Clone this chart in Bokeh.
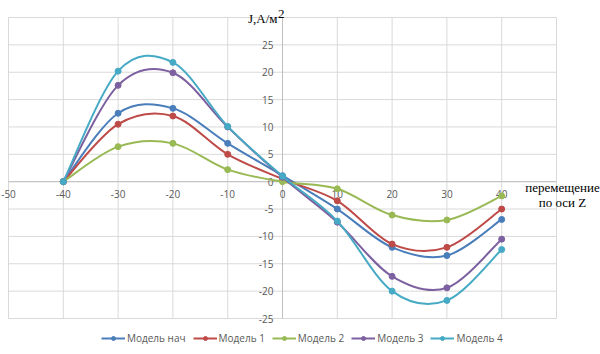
from bokeh.plotting import figure
from bokeh.models import Range1d, Label, Legend, LegendItem
from bokeh.core.properties import value
from bokeh.embed import file_html
from bokeh.resources import INLINE

# ---- data ----
z = [-40, -30, -20, -10, 0, 10, 20, 30, 40]
model_nach = [0, 12.5, 13.4, 7.0, 1.1, -5.0, -12.0, -13.5, -6.9]
model_1 = [0, 10.5, 12.0, 5.0, 0.5, -3.5, -11.4, -12.0, -5.0]
model_2 = [0, 6.4, 7.0, 2.2, 0.0, -1.3, -6.1, -7.0, -2.6]
model_3 = [0, 17.6, 19.9, 10.0, 0.8, -7.4, -17.3, -19.4, -10.5]
model_4 = [0, 20.2, 21.8, 10.1, 1.0, -7.2, -20.0, -21.7, -12.4]
series_names = ["Модель нач", "Модель 1", "Модель 2", "Модель 3", "Модель 4"]
series_values = [model_nach, model_1, model_2, model_3, model_4]
colors = ["#4A7EBB", "#BE4B48", "#98B954", "#7D60A0", "#46AAC5"]
x_ticks = [-50, -40, -30, -20, -10, 0, 10, 20, 30, 40, 50]
x_tick_labels = ["-50", "-40", "-30", "-20", "-10", "0", "10", "20", "30", "40"]
y_ticks = [-25, -20, -15, -10, -5, 0, 5, 10, 15, 20, 25, 30]
y_tick_labels = ["-25", "-20", "-15", "-10", "-5", "0", "5", "10", "15", "20", "25"]

FONT = "Open Sans"
SERIF = "Liberation Serif"
LABEL_COLOR = "#595959"

# the frame fills the whole canvas; the plotting area (-50..50, -25..30)
# sits at px 8..556 horizontally and 17..318 vertically
xmin, xmax = x_ticks[0], x_ticks[-1]
ymin, ymax = y_ticks[0], y_ticks[-1]
kx = 548.0 / (xmax - xmin)
ky = 301.0 / (ymax - ymin)
p = figure(width=600, height=354, output_backend="svg", toolbar_location=None,
           x_range=Range1d(xmin - 8 / kx, xmax + 44 / kx),
           y_range=Range1d(ymin - 36 / ky, ymax + 17 / ky),
           x_axis_location=None, y_axis_location=None,
           min_border=0)
p.outline_line_color = None
p.grid.grid_line_color = None

# grid lines
p.segment(x0=x_ticks, y0=[ymin] * len(x_ticks), x1=x_ticks, y1=[ymax] * len(x_ticks),
          line_color="#D9D9D9", line_width=1)
p.segment(x0=[xmin] * len(y_ticks), y0=y_ticks, x1=[xmax] * len(y_ticks), y1=y_ticks,
          line_color="#D9D9D9", line_width=1)
# axis lines crossing at zero
p.segment(x0=[xmin, 0], y0=[0, ymin], x1=[xmax, 0], y1=[0, ymax],
          line_color="#BFBFBF", line_width=1)

# tick labels at the axis crossing
xl = [float(t) for t in x_tick_labels]
p.text(x=xl, y=[0.0] * len(xl), text=x_tick_labels, text_align="center",
       text_baseline="middle", y_offset=12, text_font_size="10px",
       text_color=LABEL_COLOR, text_font=value(FONT))
yl = [float(t) for t in y_tick_labels]
p.text(x=[0.0] * len(yl), y=yl, text=y_tick_labels, text_align="right",
       text_baseline="middle", x_offset=-9, text_font_size="10px",
       text_color=LABEL_COLOR, text_font=value(FONT))

# smooth series (Bezier segments computed from the data points)
items = []
for name, vals, col in zip(series_names, series_values, colors):
    n = len(z)
    x0, y0, x1, y1, cx0, cy0, cx1, cy1 = [], [], [], [], [], [], [], []
    for i in range(n - 1):
        ip = i - 1 if i > 0 else i
        iq = i + 2 if i + 2 < n else i + 1
        x0.append(z[i]); y0.append(vals[i])
        x1.append(z[i + 1]); y1.append(vals[i + 1])
        cx0.append(z[i] + (z[i + 1] - z[ip]) / 6.0)
        cy0.append(vals[i] + (vals[i + 1] - vals[ip]) / 6.0)
        cx1.append(z[i + 1] - (z[iq] - z[i]) / 6.0)
        cy1.append(vals[i + 1] - (vals[iq] - vals[i]) / 6.0)
    bz = p.bezier(x0=x0, y0=y0, x1=x1, y1=y1, cx0=cx0, cy0=cy0, cx1=cx1, cy1=cy1,
                  line_color=col, line_width=2)
    sc = p.scatter(x=z, y=vals, size=6, fill_color=col, line_color=col)
    items.append(LegendItem(label=name, renderers=[bz, sc]))

legend = Legend(items=items, orientation="horizontal", location=(101, 9),
                label_text_font_size="10px", label_text_color=LABEL_COLOR,
                label_text_font=FONT, glyph_width=24, glyph_height=10,
                label_standoff=2, spacing=7, padding=2, margin=0,
                border_line_color=None, background_fill_alpha=0,
                label_height=12)
p.add_layout(legend)

# axis titles
p.add_layout(Label(x=-0.9, y=29.9, text="J,A/м", text_align="right",
                   text_baseline="middle", text_font=SERIF,
                   text_font_size="13px", text_color="#000000"))
p.add_layout(Label(x=-0.8, y=30.7, text="2", text_align="left",
                   text_baseline="middle", text_font=SERIF,
                   text_font_size="13px", text_color="#000000"))
p.add_layout(Label(x=51.1, y=-1.1, text="перемещение", text_align="center",
                   text_baseline="middle", text_font=SERIF,
                   text_font_size="13px", text_color="#000000"))
p.add_layout(Label(x=51.1, y=-3.8, text="по оси Z", text_align="center",
                   text_baseline="middle", text_font=SERIF,
                   text_font_size="13px", text_color="#000000"))

open("out.html", "w").write(file_html(p, INLINE))
